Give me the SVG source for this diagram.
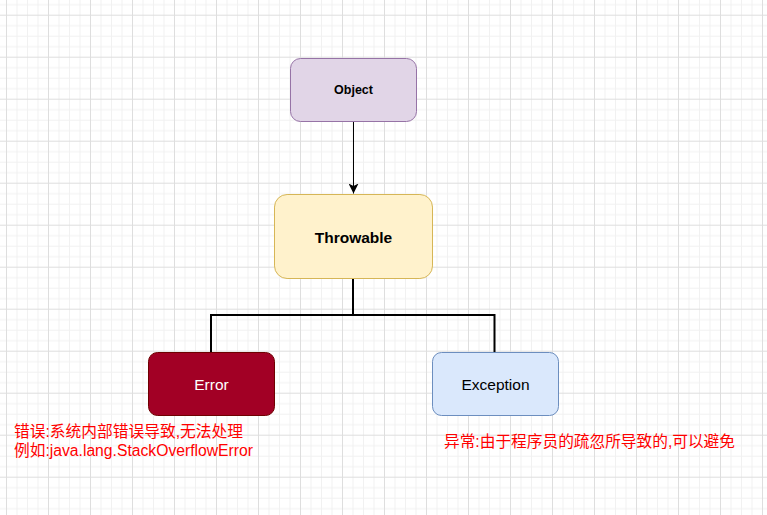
<svg xmlns="http://www.w3.org/2000/svg" width="767" height="515" viewBox="0 0 767 515">
  <style>
    .node { stroke-width: 1; }
    .label { font-family: "Liberation Sans", Arial, "Noto Sans CJK SC", sans-serif; text-anchor: middle; }
    .note { font-family: "Liberation Sans", Arial, "Noto Sans CJK SC", sans-serif; font-size: 16px; fill: #ff0000; }
    .conn { fill: none; stroke: #000000; }
  </style>
  <defs>
    <pattern id="grid" patternUnits="userSpaceOnUse" x="6" y="14.7" width="42" height="42">
      <rect x="0" y="0" width="42" height="42" fill="#ffffff"/>
      <rect x="10.5" y="0" width="1" height="42" fill="#f1f1f1"/>
      <rect x="21" y="0" width="1" height="42" fill="#f1f1f1"/>
      <rect x="31.5" y="0" width="1" height="42" fill="#f1f1f1"/>
      <rect x="0" y="10.5" width="42" height="1" fill="#f1f1f1"/>
      <rect x="0" y="21" width="42" height="1" fill="#f1f1f1"/>
      <rect x="0" y="31.5" width="42" height="1" fill="#f1f1f1"/>
      <rect x="0" y="0" width="1" height="42" fill="#dedede"/>
      <rect x="0" y="0" width="42" height="1" fill="#dedede"/>
    </pattern>
    <marker id="arrow" viewBox="0 0 10 10" refX="10" refY="5" markerWidth="10" markerHeight="10" markerUnits="userSpaceOnUse" orient="auto">
      <path d="M0,0 L10,5 L0,10 L2.5,5 Z" fill="#000000"/>
    </marker>
  </defs>

  <rect x="0" y="0" width="767" height="515" fill="url(#grid)"/>

  <g id="connectors">
    <path class="conn" d="M353.5,121.5 L353.5,193.5" stroke-width="1" marker-end="url(#arrow)"/>
    <path class="conn" d="M353,279 L353,315 L211,315 L211,352" stroke-width="2"/>
    <path class="conn" d="M353,315 L494.5,315 L494.5,352" stroke-width="2"/>
  </g>

  <g id="node-object">
    <rect class="node" x="290.5" y="58.5" width="126" height="63" rx="10" ry="10" fill="#e1d5e7" stroke="#9673a6"/>
    <text class="label" x="353.5" y="94" font-size="12.5" font-weight="bold" fill="#000000">Object</text>
  </g>

  <g id="node-throwable">
    <rect class="node" x="274.5" y="194.5" width="158" height="84" rx="12.6" ry="12.6" fill="#fff2cc" stroke="#d6b656"/>
    <text class="label" x="353.5" y="243" font-size="15.5" font-weight="bold" fill="#000000">Throwable</text>
  </g>

  <g id="node-error">
    <rect class="node" x="148.5" y="352.5" width="126" height="63" rx="9" ry="9" fill="#a20025" stroke="#6f0000"/>
    <text class="label" x="211.5" y="390" font-size="15.5" fill="#ffffff">Error</text>
  </g>

  <g id="node-exception">
    <rect class="node" x="432.5" y="352.5" width="126" height="63" rx="9" ry="9" fill="#dae8fc" stroke="#6c8ebf"/>
    <text class="label" x="495.5" y="390" font-size="15.5" fill="#000000">Exception</text>
  </g>

  <g id="note-error">
    <text class="note" x="14" y="437" textLength="229" lengthAdjust="spacingAndGlyphs">错误:系统内部错误导致,无法处理</text>
    <text class="note" x="14" y="456" textLength="239" lengthAdjust="spacingAndGlyphs">例如:java.lang.StackOverflowError</text>
  </g>

  <g id="note-exception">
    <text class="note" x="444" y="446.5" textLength="291" lengthAdjust="spacingAndGlyphs">异常:由于程序员的疏忽所导致的,可以避免</text>
  </g>
</svg>
